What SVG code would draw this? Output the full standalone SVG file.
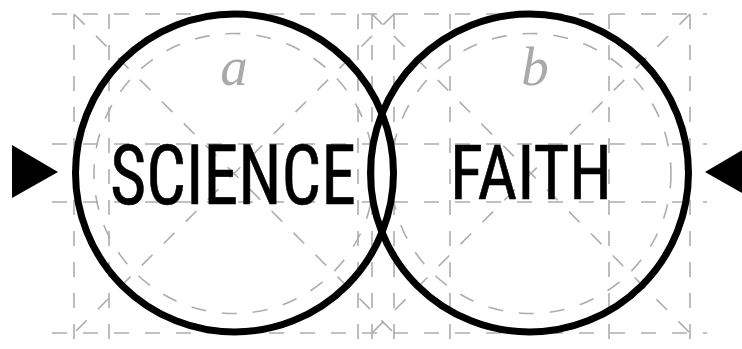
<svg xmlns="http://www.w3.org/2000/svg" width="742" height="349" viewBox="0 0 742 349">
  <style>
    .g { fill: none; stroke: #adadb0; stroke-width: 1.6; stroke-dasharray: 15 16; }
    .c { fill: none; stroke: #000; stroke-width: 7; }
    .lbl { font-family: "Liberation Serif", "DejaVu Serif", serif; font-style: italic; font-size: 55px; fill: #a9a9ac; text-anchor: middle; }
    .word { font-family: "Liberation Sans Narrow", "Roboto Condensed", "Liberation Sans", sans-serif; font-stretch: condensed; fill: #000; stroke: #000; stroke-width: 0.6; stroke-linejoin: round; }
    .arrow { fill: #000; }
  </style>
  <g id="construction">
    <line class="g" x1="52" y1="14" x2="707" y2="14"/>
    <line class="g" x1="52" y1="144" x2="707" y2="144"/>
    <line class="g" x1="52" y1="202" x2="707" y2="202"/>
    <line class="g" x1="52" y1="333" x2="707" y2="333"/>
    <line class="g" x1="74" y1="14" x2="74" y2="352"/>
    <line class="g" x1="109" y1="14" x2="109" y2="352"/>
    <line class="g" x1="358" y1="14" x2="358" y2="352"/>
    <line class="g" x1="372" y1="14" x2="372" y2="352"/>
    <line class="g" x1="394" y1="14" x2="394" y2="352"/>
    <line class="g" x1="450" y1="14" x2="450" y2="352"/>
    <line class="g" x1="609" y1="14" x2="609" y2="352"/>
    <line class="g" x1="690" y1="14" x2="690" y2="352"/>
    <line class="g" x1="74" y1="14" x2="394" y2="333"/>
    <line class="g" x1="394" y1="14" x2="74" y2="333"/>
    <line class="g" x1="372" y1="14" x2="690" y2="333"/>
    <line class="g" x1="690" y1="14" x2="372" y2="333"/>
    <circle class="g" cx="234" cy="173.5" r="140"/>
    <circle class="g" cx="531" cy="173.5" r="140"/>
    <text class="lbl" x="234" y="85">a</text>
    <text class="lbl" x="535" y="85">b</text>
  </g>
  <g id="science">
    <circle class="c" cx="234.5" cy="173" r="159"/>
    <text class="word" x="110" y="203.5" font-size="83" textLength="246" lengthAdjust="spacingAndGlyphs">SCIENCE</text>
  </g>
  <g id="faith">
    <circle class="c" cx="529.5" cy="173" r="159"/>
    <text class="word" x="450" y="199" font-size="76" textLength="162" lengthAdjust="spacingAndGlyphs">FAITH</text>
  </g>
  <g id="connectors">
    <polygon class="arrow" points="12,145 12,198 58,172"/>
    <polygon class="arrow" points="705,172 751,145 751,198"/>
  </g>
</svg>
